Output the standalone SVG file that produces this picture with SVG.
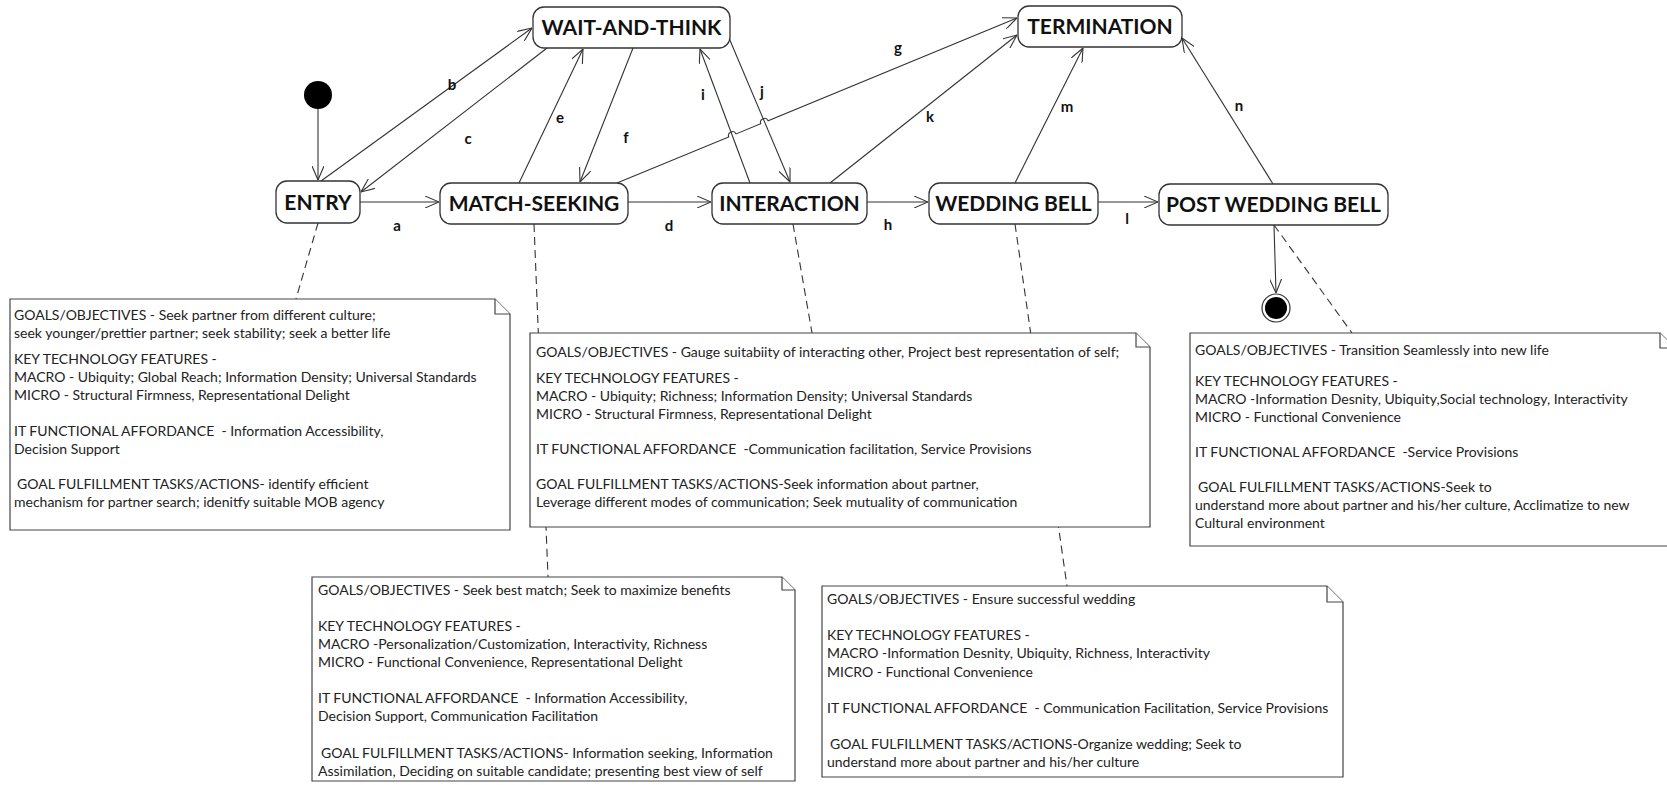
<svg xmlns="http://www.w3.org/2000/svg" width="1667" height="785" viewBox="0 0 1667 785">
<style>
.st rect{fill:#fff;stroke:#333;stroke-width:1.3}
.st text{font-family:Lato,"Liberation Sans",sans-serif;font-weight:700;font-size:21px;fill:#111;text-anchor:middle}
.note path{fill:#fff;stroke:#444;stroke-width:1.2}
.note text{font-family:Lato,"Liberation Sans",sans-serif;font-size:14px;fill:#222;white-space:pre}
.edge{fill:none;stroke:#333;stroke-width:1.1}
.link{fill:none;stroke:#333;stroke-width:1.1;stroke-dasharray:8 5}
.lbl{font-family:Lato,"Liberation Sans",sans-serif;font-weight:700;font-size:15px;fill:#111;text-anchor:middle}
</style>
<defs>
<marker id="arr" viewBox="0 0 14 12" refX="14" refY="6" markerWidth="14" markerHeight="12" markerUnits="userSpaceOnUse" orient="auto">
<path d="M0,0 L14,6 L0,12" fill="none" stroke="#333" stroke-width="1.1"/>
</marker>
</defs>
<rect width="1667" height="785" fill="#fff"/>

<g id="links">
<path class="link" d="M318,223 L296,299"/>
<path class="link" d="M534,224 L548,577"/>
<path class="link" d="M793,224 L812,333"/>
<path class="link" d="M1015,224 L1067,586"/>
<path class="link" d="M1274,225 L1352,333"/>
</g>

<g id="note-entry" class="note">
<path d="M10,299 H495 L510,314 V530 H10 Z"/>
<path d="M495,299 V314 H510"/>
<text x="14" y="320">GOALS/OBJECTIVES - Seek partner from different culture;</text>
<text x="14" y="338">seek younger/prettier partner; seek stability; seek a better life</text>
<text x="14" y="364">KEY TECHNOLOGY FEATURES -</text>
<text x="14" y="382">MACRO - Ubiquity; Global Reach; Information Density; Universal Standards</text>
<text x="14" y="400">MICRO - Structural Firmness, Representational Delight</text>
<text x="14" y="436">IT FUNCTIONAL AFFORDANCE  - Information Accessibility,</text>
<text x="14" y="454">Decision Support</text>
<text x="17" y="489">GOAL FULFILLMENT TASKS/ACTIONS- identify efficient</text>
<text x="14" y="507">mechanism for partner search; idenitfy suitable MOB agency</text>
</g>

<g id="note-interaction" class="note">
<path d="M530,333 H1136 L1150,347 V527 H530 Z"/>
<path d="M1136,333 V347 H1150"/>
<text x="536" y="357">GOALS/OBJECTIVES - Gauge suitabiity of interacting other, Project best representation of self;</text>
<text x="536" y="383">KEY TECHNOLOGY FEATURES -</text>
<text x="536" y="401">MACRO - Ubiquity; Richness; Information Density; Universal Standards</text>
<text x="536" y="419">MICRO - Structural Firmness, Representational Delight</text>
<text x="536" y="454">IT FUNCTIONAL AFFORDANCE  -Communication facilitation, Service Provisions</text>
<text x="536" y="489">GOAL FULFILLMENT TASKS/ACTIONS-Seek information about partner,</text>
<text x="536" y="507">Leverage different modes of communication; Seek mutuality of communication</text>
</g>

<g id="note-post" class="note">
<path d="M1190,333 H1660 L1675,348 V546 H1190 Z"/>
<path d="M1660,333 V348 H1675"/>
<text x="1195" y="355">GOALS/OBJECTIVES - Transition Seamlessly into new life</text>
<text x="1195" y="386">KEY TECHNOLOGY FEATURES -</text>
<text x="1195" y="404">MACRO -Information Desnity, Ubiquity,Social technology, Interactivity</text>
<text x="1195" y="422">MICRO - Functional Convenience</text>
<text x="1195" y="457">IT FUNCTIONAL AFFORDANCE  -Service Provisions</text>
<text x="1198" y="492">GOAL FULFILLMENT TASKS/ACTIONS-Seek to</text>
<text x="1195" y="510">understand more about partner and his/her culture, Acclimatize to new</text>
<text x="1195" y="528">Cultural environment</text>
</g>

<g id="note-match" class="note">
<path d="M312,577 H782 L795,590 V781 H312 Z"/>
<path d="M782,577 V590 H795"/>
<text x="318" y="595">GOALS/OBJECTIVES - Seek best match; Seek to maximize benefits</text>
<text x="318" y="631">KEY TECHNOLOGY FEATURES -</text>
<text x="318" y="649">MACRO -Personalization/Customization, Interactivity, Richness</text>
<text x="318" y="667">MICRO - Functional Convenience, Representational Delight</text>
<text x="318" y="703">IT FUNCTIONAL AFFORDANCE  - Information Accessibility,</text>
<text x="318" y="721">Decision Support, Communication Facilitation</text>
<text x="321" y="758">GOAL FULFILLMENT TASKS/ACTIONS- Information seeking, Information</text>
<text x="318" y="776">Assimilation, Deciding on suitable candidate; presenting best view of self</text>
</g>

<g id="note-wedding" class="note">
<path d="M822,586 H1327 L1343,602 V777 H822 Z"/>
<path d="M1327,586 V602 H1343"/>
<text x="827" y="604">GOALS/OBJECTIVES - Ensure successful wedding</text>
<text x="827" y="640">KEY TECHNOLOGY FEATURES -</text>
<text x="827" y="658">MACRO -Information Desnity, Ubiquity, Richness, Interactivity</text>
<text x="827" y="677">MICRO - Functional Convenience</text>
<text x="827" y="713">IT FUNCTIONAL AFFORDANCE  - Communication Facilitation, Service Provisions</text>
<text x="830" y="749">GOAL FULFILLMENT TASKS/ACTIONS-Organize wedding; Seek to</text>
<text x="827" y="767">understand more about partner and his/her culture</text>
</g>

<g id="connectors">
<path class="edge" d="M318,109 L318,180" marker-end="url(#arr)"/>
<path class="edge" d="M360,202 L439,202" marker-end="url(#arr)"/>
<path class="edge" d="M321,181 L532,28" marker-end="url(#arr)"/>
<path class="edge" d="M547,48 L361,192" marker-end="url(#arr)"/>
<path class="edge" d="M628,202 L711,202" marker-end="url(#arr)"/>
<path class="edge" d="M519,183 L583,49" marker-end="url(#arr)"/>
<path class="edge" d="M633,48 L580,182" marker-end="url(#arr)"/>
<path class="edge" d="M617,183 L728.7,136.9 A4,4 0 0 1 736.1,133.9 L760.7,123.7 A4,4 0 0 1 768.1,120.7 L1017,18" marker-end="url(#arr)"/>
<path class="edge" d="M867,202 L928,202" marker-end="url(#arr)"/>
<path class="edge" d="M750,183 L700,49" marker-end="url(#arr)"/>
<path class="edge" d="M729,38 L790,182" marker-end="url(#arr)"/>
<path class="edge" d="M830,183 L1017,35" marker-end="url(#arr)"/>
<path class="edge" d="M1098,202 L1158,202" marker-end="url(#arr)"/>
<path class="edge" d="M1015,183 L1083,48" marker-end="url(#arr)"/>
<path class="edge" d="M1273,184 L1182,38" marker-end="url(#arr)"/>
<path class="edge" d="M1274,225 L1276,293" marker-end="url(#arr)"/>
<text class="lbl" x="397" y="231">a</text>
<text class="lbl" x="452" y="90">b</text>
<text class="lbl" x="468" y="144">c</text>
<text class="lbl" x="669" y="231">d</text>
<text class="lbl" x="560" y="123">e</text>
<text class="lbl" x="626" y="143">f</text>
<text class="lbl" x="898" y="53">g</text>
<text class="lbl" x="888" y="230">h</text>
<text class="lbl" x="703" y="100">i</text>
<text class="lbl" x="762" y="97">j</text>
<text class="lbl" x="930" y="122">k</text>
<text class="lbl" x="1127" y="224">l</text>
<text class="lbl" x="1067" y="112">m</text>
<text class="lbl" x="1239" y="111">n</text>
</g>

<g id="initial">
<circle cx="318" cy="95" r="14" fill="#000"/>
</g>
<g id="final">
<circle cx="1276" cy="308" r="14" fill="#fff" stroke="#333" stroke-width="1.2"/>
<circle cx="1276" cy="308" r="11" fill="#000"/>
</g>

<g id="wait" class="st"><rect x="533" y="7" width="197" height="41" rx="11"/><text x="631.5" y="35">WAIT-AND-THINK</text></g>
<g id="termination" class="st"><rect x="1018" y="6" width="164" height="41" rx="11"/><text x="1100" y="34">TERMINATION</text></g>
<g id="entry" class="st"><rect x="276" y="181" width="84" height="42" rx="11"/><text x="318" y="209.5">ENTRY</text></g>
<g id="match" class="st"><rect x="440" y="183" width="188" height="41" rx="11"/><text x="534" y="211">MATCH-SEEKING</text></g>
<g id="interaction" class="st"><rect x="712" y="183" width="155" height="41" rx="11"/><text x="789.5" y="211">INTERACTION</text></g>
<g id="wedding" class="st"><rect x="929" y="183" width="169" height="41" rx="11"/><text x="1013.5" y="211">WEDDING BELL</text></g>
<g id="post" class="st"><rect x="1159" y="184" width="229" height="41" rx="11"/><text x="1273.5" y="212">POST WEDDING BELL</text></g>
</svg>
